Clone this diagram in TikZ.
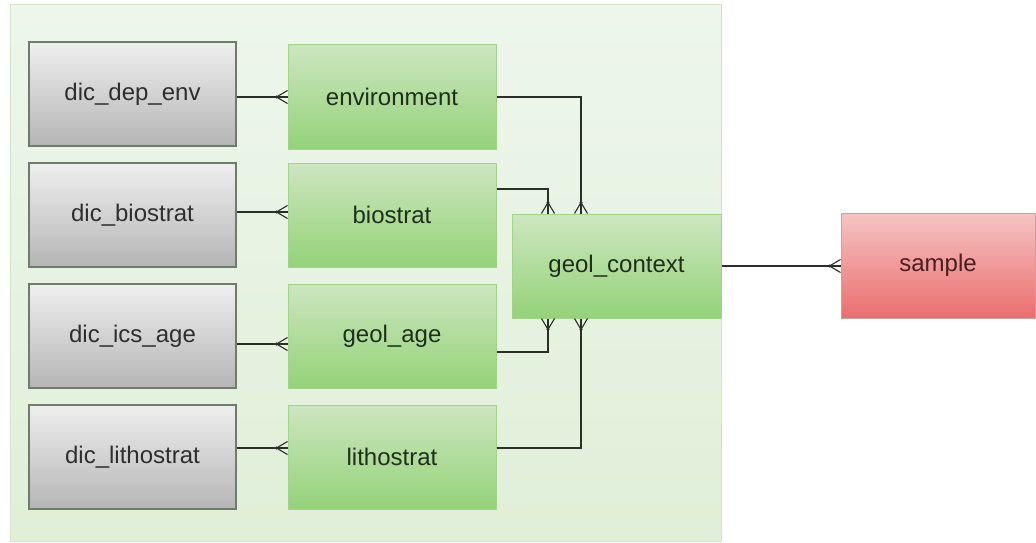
\documentclass[tikz,border=0pt]{standalone}
\usepackage{fontspec}
\setmainfont{Liberation Sans}
\usetikzlibrary{calc}
\definecolor{bgtop}{HTML}{EEF6EC}
\definecolor{bgbot}{HTML}{E0EFD8}
\definecolor{bgline}{HTML}{D2E4CA}
\definecolor{graytop}{HTML}{EFEFEF}
\definecolor{graybot}{HTML}{B5B5B5}
\definecolor{grayline}{HTML}{6E7C6C}
\definecolor{greentop}{HTML}{CDE6C0}
\definecolor{greenbot}{HTML}{94D278}
\definecolor{greenline}{HTML}{A2D38A}
\definecolor{redtop}{HTML}{F6C4C4}
\definecolor{redbot}{HTML}{EA6E6E}
\definecolor{redline}{HTML}{C9A0A0}
\definecolor{conn}{HTML}{2A2F2A}
\definecolor{graytext}{HTML}{2E2E2E}
\definecolor{greentext}{HTML}{1E301A}
\definecolor{redtext}{HTML}{4A1E1E}
\tikzset{
  x=1pt, y=-1pt,
  every node/.style={font=\fontsize{24}{28}\selectfont, inner sep=0pt},
  graybox/.style={rectangle, draw=grayline, line width=1.2pt, top color=graytop, bottom color=graybot, minimum width=207pt, minimum height=104pt, text=graytext},
  greenbox/.style={rectangle, draw=greenline, line width=1pt, top color=greentop, bottom color=greenbot, minimum width=208pt, minimum height=104pt, text=greentext},
  redbox/.style={rectangle, draw=redline, line width=1pt, top color=redtop, bottom color=redbot, minimum width=194pt, minimum height=105pt, text=redtext},
  link/.style={draw=conn, line width=1.4pt},
  foot/.style={draw=conn, line width=1.1pt},
}
% crow's foot: #1 = point on edge, (#2,#3) = unit direction pointing away from box
\newcommand{\crowfoot}[3]{%
  \draw[foot] ($(#1)+(#2*11,#3*11)$) -- ($(#1)+(-#3*6.5,#2*6.5)$);
  \draw[foot] ($(#1)+(#2*11,#3*11)$) -- ($(#1)+(#3*6.5,-#2*6.5)$);
  \fill[conn] ($(#1)+(#2*11,#3*11)$) circle (1.7pt);
}
\begin{document}
\begin{tikzpicture}
\useasboundingbox (0,0) rectangle (1036,543);
\fill[white] (0,0) rectangle (1036,543);
\draw[bgline, line width=1pt, top color=bgtop, bottom color=bgbot] (10,5) rectangle (721,541);

\node[graybox] (dep) at (132.5,94) {dic\_dep\_env};
\node[graybox] (dbio) at (132.5,215) {dic\_biostrat};
\node[graybox] (dics) at (132.5,336) {dic\_ics\_age};
\node[graybox] (dlith) at (132.5,457) {dic\_lithostrat};

\node[greenbox] (env) at (392,97) {environment};
\node[greenbox] (bio) at (392,215) {biostrat};
\node[greenbox] (age) at (392,336) {geol\_age};
\node[greenbox] (lith) at (392,457) {lithostrat};

\node[greenbox, minimum width=209pt] (ctx) at (616.5,266) {geol\_context};
\node[redbox] (sample) at (938,265.5) {sample};

% dictionary links
\coordinate (e1) at (env.west |- 0,97);
\draw[link] (dep.east |- e1) -- (e1);
\crowfoot{e1}{-1}{0}
\coordinate (e2) at (bio.west |- 0,212);
\draw[link] (dbio.east |- e2) -- (e2);
\crowfoot{e2}{-1}{0}
\coordinate (e3) at (age.west |- 0,344);
\draw[link] (dics.east |- e3) -- (e3);
\crowfoot{e3}{-1}{0}
\coordinate (e4) at (lith.west |- 0,448);
\draw[link] (dlith.east |- e4) -- (e4);
\crowfoot{e4}{-1}{0}

% links to geol_context
\coordinate (t1) at (581,0 |- ctx.north);
\draw[link] (env.east |- 0,97) -| (t1);
\crowfoot{t1}{0}{-1}
\coordinate (t2) at (548,0 |- ctx.north);
\draw[link] (bio.east |- 0,189) -| (t2);
\crowfoot{t2}{0}{-1}
\coordinate (b1) at (548,0 |- ctx.south);
\draw[link] (age.east |- 0,352) -| (b1);
\crowfoot{b1}{0}{1}
\coordinate (b2) at (581,0 |- ctx.south);
\draw[link] (lith.east |- 0,448) -| (b2);
\crowfoot{b2}{0}{1}

% link to sample
\coordinate (s1) at (sample.west |- 0,266);
\draw[link] (ctx.east |- s1) -- (s1);
\crowfoot{s1}{-1}{0}
\end{tikzpicture}
\end{document}
